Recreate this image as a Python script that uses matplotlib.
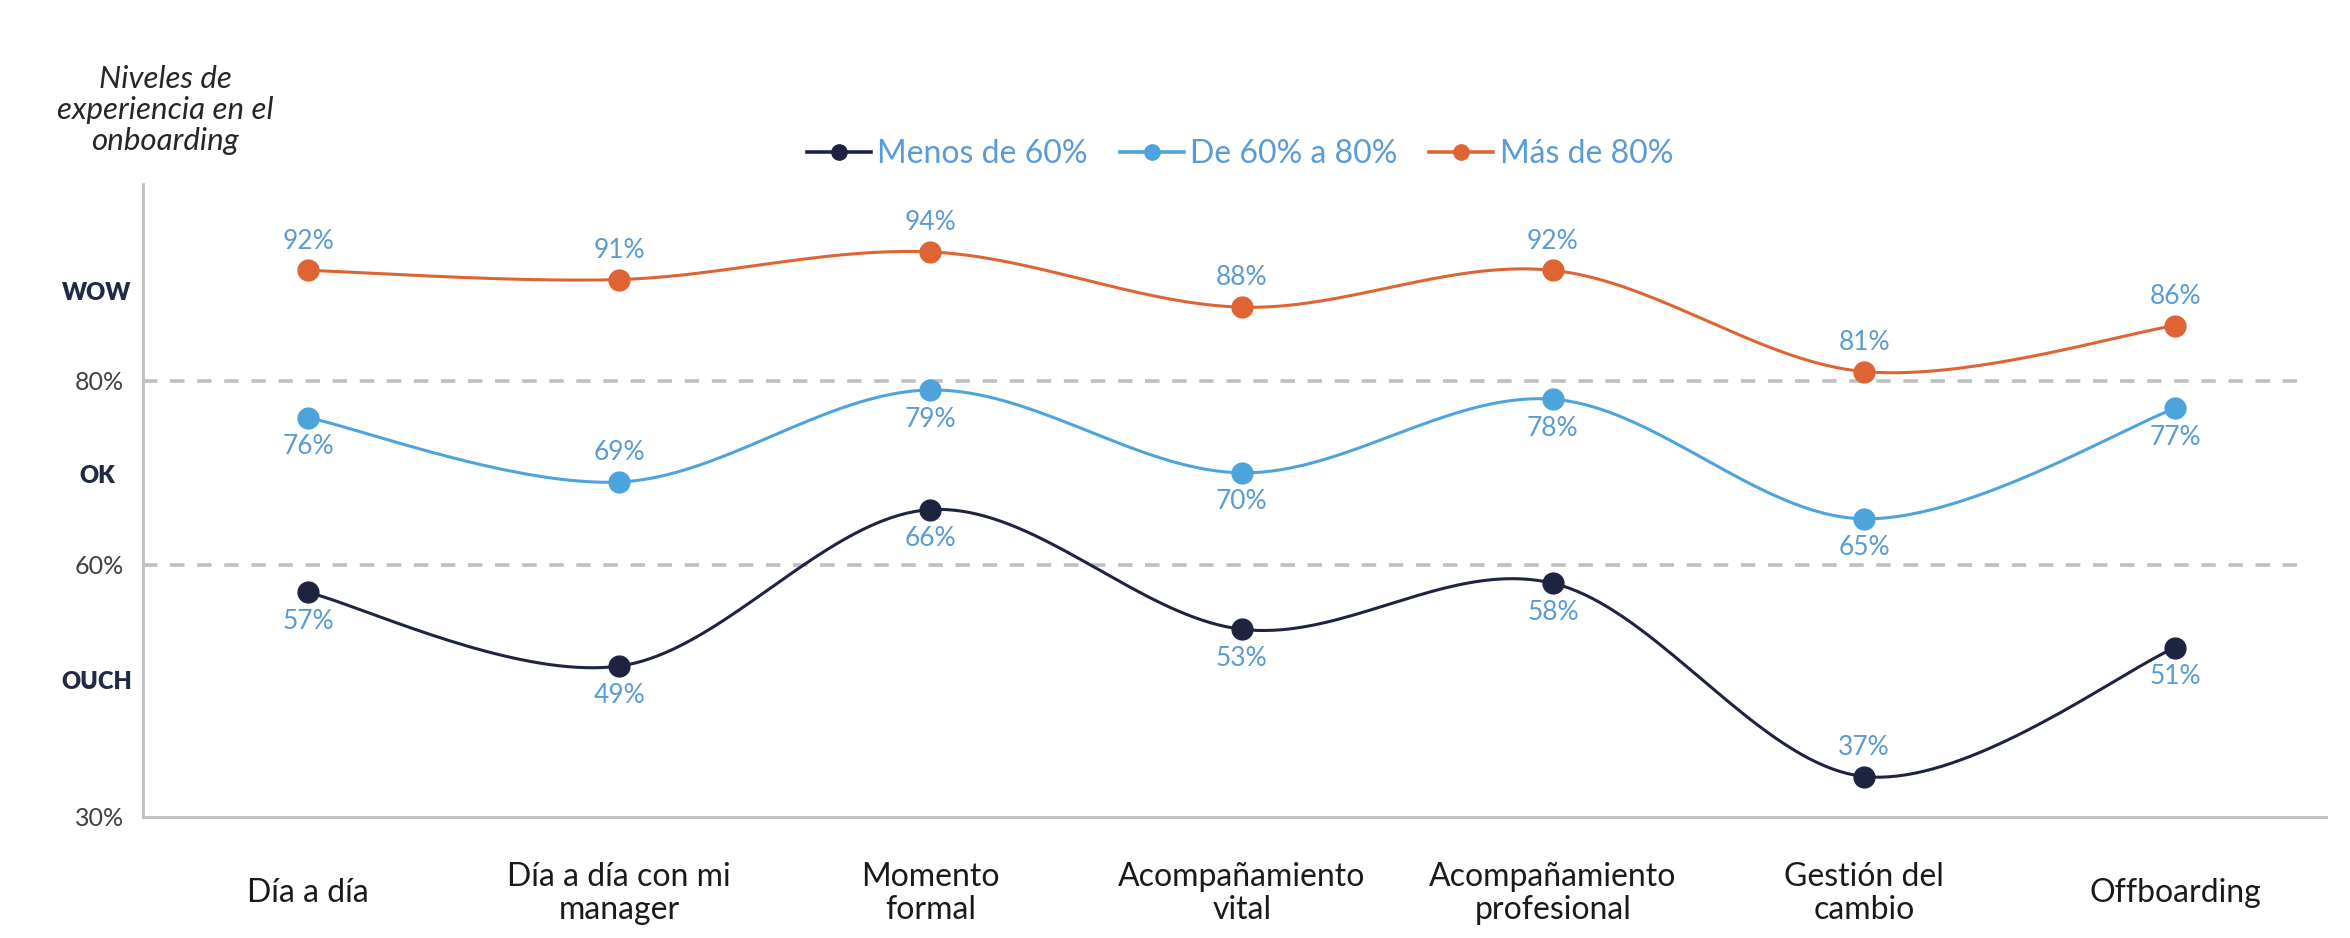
#!/usr/bin/env python3
"""Niveles de experiencia en el onboarding por momento del ciclo."""

import numpy as np
import matplotlib

matplotlib.use("Agg")
import matplotlib.pyplot as plt  # noqa: E402
from matplotlib.lines import Line2D  # noqa: E402
from matplotlib.transforms import blended_transform_factory  # noqa: E402

plt.rcParams["font.family"] = ["Lato", "DejaVu Sans"]

CATEGORIES = [
    "Día a día",
    "Día a día con mi\nmanager",
    "Momento\nformal",
    "Acompañamiento\nvital",
    "Acompañamiento\nprofesional",
    "Gestión del\ncambio",
    "Offboarding",
]
SERIES_NAMES = ["Menos de 60%", "De 60% a 80%", "Más de 80%"]
MENOS_60 = [57, 49, 66, 53, 58, 37, 51]
DE_60_A_80 = [76, 69, 79, 70, 78, 65, 77]
MAS_80 = [92, 91, 94, 88, 92, 81, 86]

# label side for each point: +1 above, -1 below
MENOS_60_SIDE = [-1, -1, -1, -1, -1, 1, -1]
DE_60_A_80_SIDE = [-1, 1, -1, -1, -1, -1, -1]
MAS_80_SIDE = [1, 1, 1, 1, 1, 1, 1]

LEVEL_NAMES = ["WOW", "OK", "OUCH"]
LEVEL_POS = [89.5, 69.6, 47.3]
THRESHOLDS = [80, 60]
Y_BOTTOM_LABEL = "30%"

COLORS = ["#1E2340", "#4DA3DB", "#DE6434"]
LABEL_COLOR = "#5B9BD5"
NAVY = "#1F2A44"
GRID_GRAY = "#BFBFBF"


def smooth_curve(xs, ys, steps=40):
    """Catmull-Rom style smoothing, like the spreadsheet 'smoothed line'."""
    xs = np.asarray(xs, dtype=float)
    ys = np.asarray(ys, dtype=float)
    n = len(xs)
    tx = np.empty(n)
    ty = np.empty(n)
    for i in range(n):
        lo = max(i - 1, 0)
        hi = min(i + 1, n - 1)
        tx[i] = (xs[hi] - xs[lo]) / 2.0
        ty[i] = (ys[hi] - ys[lo]) / 2.0
    out_x, out_y = [], []
    t = np.linspace(0, 1, steps)
    h00 = 2 * t**3 - 3 * t**2 + 1
    h10 = t**3 - 2 * t**2 + t
    h01 = -2 * t**3 + 3 * t**2
    h11 = t**3 - t**2
    for i in range(n - 1):
        out_x.append(h00 * xs[i] + h10 * tx[i] + h01 * xs[i + 1] + h11 * tx[i + 1])
        out_y.append(h00 * ys[i] + h10 * ty[i] + h01 * ys[i + 1] + h11 * ty[i + 1])
    return np.concatenate(out_x), np.concatenate(out_y)


def main():
    fig = plt.figure(figsize=(23.5, 9.38), dpi=100)
    ax = fig.add_axes([0.0609, 0.129, 0.929, 0.675])
    x = np.arange(len(CATEGORIES))

    for value in THRESHOLDS:
        ax.axhline(value, xmax=0.99, color=GRID_GRAY, linestyle=(0, (4, 3.5)),
                   linewidth=2.6, zorder=1)

    series = [
        (MENOS_60, MENOS_60_SIDE),
        (DE_60_A_80, DE_60_A_80_SIDE),
        (MAS_80, MAS_80_SIDE),
    ]
    for (values, sides), color in zip(series, COLORS):
        sx, sy = smooth_curve(x, values)
        ax.plot(sx, sy, color=color, linewidth=2.2, zorder=3)
        ax.plot(x, values, linestyle="none", marker="o", markersize=15,
                color=color, zorder=4)
        for xi, v, side in zip(x, values, sides):
            ax.annotate(f"{v}%", (xi, v), xytext=(0, 21 * side),
                        textcoords="offset points", ha="center", va="center",
                        fontsize=19, color=LABEL_COLOR, zorder=5)

    ax.set_xlim(-0.53, 6.485)
    ax.set_ylim(32.6, 101.4)
    ax.set_xticks(x)
    ax.set_xticklabels(CATEGORIES, fontsize=23, color="#1A1A1A",
                       va="center", linespacing=1.15)
    ax.tick_params(axis="x", length=0, pad=55)
    ax.set_yticks(THRESHOLDS + [32.6])
    ax.set_yticklabels([f"{v}%" for v in THRESHOLDS] + [Y_BOTTOM_LABEL],
                       fontsize=18, color="#404040")
    ax.tick_params(axis="y", length=0, pad=14)

    for side in ("top", "right"):
        ax.spines[side].set_visible(False)
    for side in ("left", "bottom"):
        ax.spines[side].set_color(GRID_GRAY)
        ax.spines[side].set_linewidth(2.0)

    trans = blended_transform_factory(fig.transFigure, ax.transData)
    for name, pos in zip(LEVEL_NAMES, LEVEL_POS):
        ax.text(97 / 2350, pos, name, transform=trans, ha="center", va="center",
                fontsize=17, fontweight="heavy", color=NAVY)

    fig.text(165 / 2350, 1 - 110 / 938,
             "Niveles de\nexperiencia en el\nonboarding",
             ha="center", va="center", fontsize=22.5, style="italic",
             color="#262626", linespacing=1.12)

    handles = [
        Line2D([], [], color=c, linewidth=2.6, marker="o", markersize=11)
        for c in COLORS
    ]
    fig.legend(handles, SERIES_NAMES, loc="center",
               bbox_to_anchor=(1240 / 2350, 1 - 154 / 938), ncol=3,
               frameon=False, fontsize=23, labelcolor=LABEL_COLOR,
               handlelength=2.0, handletextpad=0.2, columnspacing=1.0)

    fig.savefig("out.png", dpi=100)
    plt.close(fig)


if __name__ == "__main__":
    main()
